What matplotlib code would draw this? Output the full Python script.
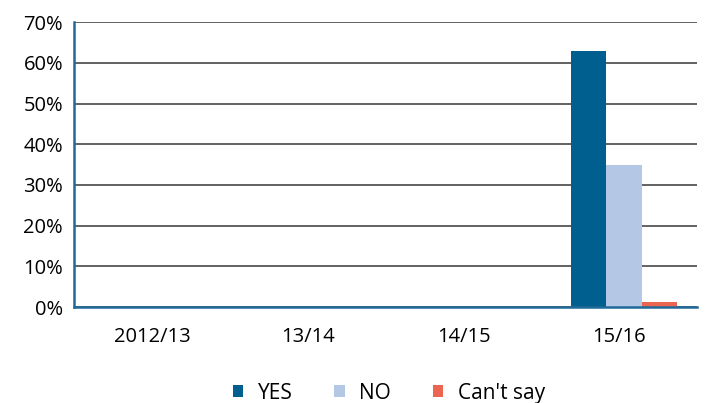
import matplotlib.pyplot as plt
import numpy as np

plt.rcParams['font.family'] = ['Open Sans', 'DejaVu Sans']

years = ["2012/13", "13/14", "14/15", "15/16"]
yes = [0, 0, 0, 63]
no = [0, 0, 0, 35]
cant_say = [0, 0, 0, 1.2]

series = [("YES", yes, "#005f8f"), ("NO", no, "#b4c8e6"), ("Can't say", cant_say, "#ec6550")]

fig, ax = plt.subplots(figsize=(7.07, 4.03), dpi=100)
fig.subplots_adjust(left=0.105, right=0.986, top=0.945, bottom=0.238)

x = np.arange(len(years))
w = 0.228
for i, (name, vals, col) in enumerate(series):
    ax.bar(x + (i - 1) * w + 0.03, vals, w, color=col, label=name, zorder=3)

ax.set_xlim(-0.5, 3.5)
ax.set_ylim(0, 70)
ax.set_yticks(range(0, 71, 10))
ax.set_yticklabels([f"{v}%" for v in range(0, 71, 10)], fontsize=14.5)
ax.set_xticks(x)
ax.set_xticklabels(years, fontsize=14.5)
ax.tick_params(length=0, pad=14)
ax.tick_params(axis='y', pad=8)
ax.yaxis.grid(True, color="#555555", linewidth=1.3, zorder=0)

for s in ["top", "right"]:
    ax.spines[s].set_visible(False)
for s in ["left", "bottom"]:
    ax.spines[s].set_color("#1f6a9a")
    ax.spines[s].set_linewidth(1.8)
    ax.spines[s].set_zorder(4)

ax.legend(loc="upper center", bbox_to_anchor=(0.505, -0.2), ncol=3, frameon=False,
          fontsize=15, handlelength=0.5, handleheight=0.5, columnspacing=2.0, handletextpad=0.7)

plt.savefig("out.png")
